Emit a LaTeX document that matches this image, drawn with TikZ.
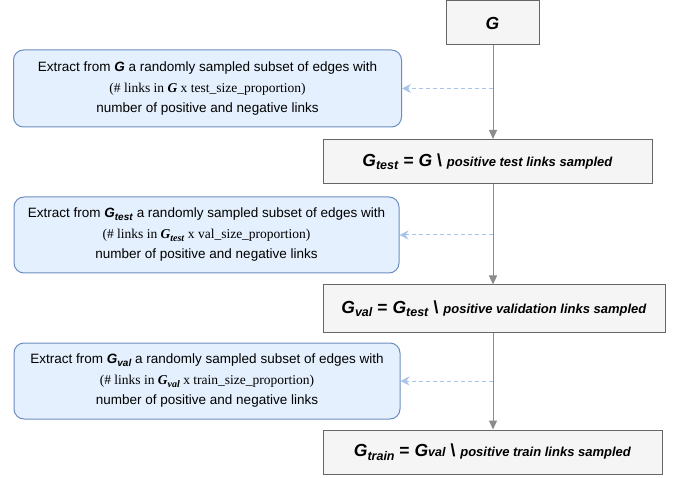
\documentclass[tikz,border=0pt]{standalone}
\usepackage{fontspec}
\setmainfont{Liberation Sans}
\newfontfamily\timesf{Liberation Serif}
\usetikzlibrary{arrows.meta}
\definecolor{bluefill}{HTML}{E4F0FD}
\definecolor{bluestroke}{HTML}{6C8EBF}
\definecolor{dashblue}{HTML}{A9C4EB}
\definecolor{grayfill}{HTML}{F5F5F5}
\definecolor{graystroke}{HTML}{666666}
\definecolor{arrowgray}{HTML}{8C8C8C}
\newcommand\bi[1]{\textbf{\textit{#1}}}
\newcommand\bigfont{\fontsize{17.5}{20}\selectfont}
\newcommand\smallfont{\fontsize{13}{16}\selectfont}
\newcommand\Gs[1]{\bi{G}\raisebox{-3.5pt}{\fontsize{12.5}{14}\selectfont\bi{#1}}}
\newcommand\tG[1]{\bi{G}\raisebox{-2.5pt}{\fontsize{10}{11}\selectfont\bi{#1}}}
\begin{document}
\begin{tikzpicture}[x=1pt,y=-1pt,
  graybox/.style={draw=graystroke, fill=grayfill, line width=1pt, inner sep=0pt, align=center, font=\bigfont\bfseries},
  bluebox/.style={draw=bluestroke, fill=bluefill, line width=1pt, rounded corners=10pt, inner sep=0pt, align=center, font=\fontsize{13.5}{16}\selectfont},
  grayarrow/.style={draw=arrowgray, line width=1pt, -{Triangle[length=9pt,width=8pt]}},
  dasharrow/.style={draw=dashblue, line width=1pt, dash pattern=on 4pt off 3pt, -{Stealth[length=9pt,width=9pt,inset=3pt]}}]
\useasboundingbox (0,0) rectangle (677,478);

\coordinate (axis) at (493,0);

\node[graybox, minimum width=93pt, minimum height=44pt] (G) at (492.5,23) {\bi{G}};
\node[graybox, minimum width=329pt, minimum height=44pt] (Gtest) at (487.5,161.5)
  {\Gs{test} = \bi{G} \textbackslash{} {\smallfont\bi{positive test links sampled}}};
\node[graybox, minimum width=342pt, minimum height=47pt] (Gval) at (494,308.5)
  {\Gs{val} = \Gs{test} \textbackslash{} {\smallfont\bi{positive validation links sampled}}};
\node[graybox, minimum width=339pt, minimum height=44pt] (Gtrain) at (492.5,452)
  {\Gs{train} = \bi{G}{\fontsize{12.5}{14}\selectfont\bi{val}} \textbackslash{} {\smallfont\bi{positive train links sampled}}};

\node[bluebox, minimum width=388pt, minimum height=77pt] (B1) at (207.5,88.5)
  {Extract from \bi{G} a randomly sampled subset of edges with\\[5pt]
   {\timesf\fontsize{13.5}{15}\selectfont (\# links in \bi{G} x test\_size\_proportion)}\\[4pt]
   number of positive and negative links};
\node[bluebox, minimum width=385pt, minimum height=76pt] (B2) at (206.5,235)
  {Extract from \tG{test} a randomly sampled subset of edges with\\[5pt]
   {\timesf\fontsize{13.5}{15}\selectfont (\# links in \tG{test} x val\_size\_proportion)}\\[4pt]
   number of positive and negative links};
\node[bluebox, minimum width=386pt, minimum height=76pt] (B3) at (207,381)
  {Extract from \tG{val} a randomly sampled subset of edges with\\[5pt]
   {\timesf\fontsize{13.5}{15}\selectfont (\# links in \tG{val} x train\_size\_proportion)}\\[4pt]
   number of positive and negative links};

\draw[grayarrow] (axis |- G.south) -- (axis |- Gtest.north);
\draw[grayarrow] (axis |- Gtest.south) -- (axis |- Gval.north);
\draw[grayarrow] (axis |- Gval.south) -- (axis |- Gtrain.north);

\draw[dasharrow] (axis |- B1.east) -- (B1.east);
\draw[dasharrow] (axis |- B2.east) -- (B2.east);
\draw[dasharrow] (axis |- B3.east) -- (B3.east);
\end{tikzpicture}
\end{document}
